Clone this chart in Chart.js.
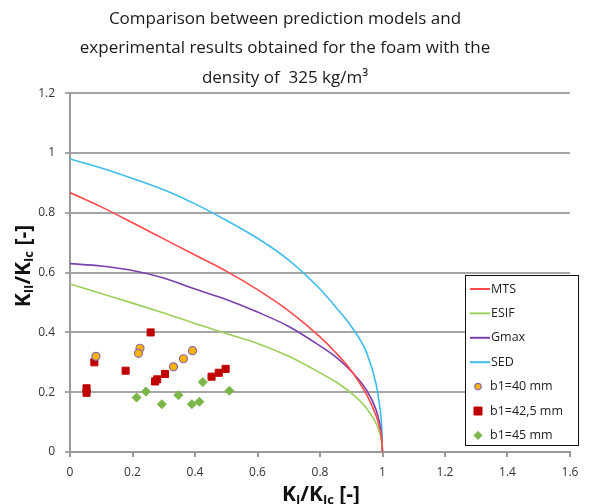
<!DOCTYPE html>
<html lang="en">
<head>
<meta charset="UTF-8">
<title>Foam 325 kg/m3</title>
<style>
  html, body { margin: 0; padding: 0; background: #fff; }
  #box { width: 589px; height: 504px; }
</style>
</head>
<body>
<div id="box"><canvas id="myChart"></canvas></div>

<script src="https://cdn.jsdelivr.net/npm/chart.js"></script>
<script>
// model curves, K_I/K_Ic on x
const curveX = [0, 0.1, 0.2, 0.3, 0.4, 0.5, 0.6, 0.7, 0.8, 0.85, 0.9, 0.95, 0.98, 0.99, 0.997, 1];
const mts  = [0.868, 0.82, 0.767, 0.713, 0.659, 0.605, 0.543, 0.472, 0.385, 0.333, 0.272, 0.19, 0.12, 0.085, 0.045, 0];
const esif = [0.562, 0.53, 0.498, 0.465, 0.43, 0.396, 0.363, 0.32, 0.265, 0.235, 0.197, 0.145, 0.095, 0.068, 0.035, 0];
const gmax = [0.63, 0.622, 0.607, 0.582, 0.545, 0.51, 0.468, 0.42, 0.355, 0.318, 0.27, 0.205, 0.14, 0.1, 0.055, 0];
const sed  = [0.98, 0.95, 0.915, 0.877, 0.83, 0.775, 0.715, 0.642, 0.545, 0.485, 0.42, 0.33, 0.225, 0.16, 0.09, 0];

// experimental results
const b40x = [0.083, 0.224, 0.219, 0.331, 0.363, 0.392];
const b40y = [0.32, 0.347, 0.33, 0.285, 0.312, 0.339];
const b425x = [0.053, 0.053, 0.078, 0.258, 0.178, 0.272, 0.279, 0.304, 0.453, 0.476, 0.498];
const b425y = [0.213, 0.198, 0.30, 0.40, 0.272, 0.236, 0.243, 0.261, 0.252, 0.265, 0.278];
const b45x = [0.213, 0.243, 0.294, 0.347, 0.39, 0.414, 0.425, 0.51];
const b45y = [0.182, 0.202, 0.16, 0.19, 0.16, 0.168, 0.234, 0.205];

const xTicks = ["0", "0.2", "0.4", "0.6", "0.8", "1", "1.2", "1.4", "1.6"];
const yTicks = ["0", "0.2", "0.4", "0.6", "0.8", "1", "1.2"];

const titleLines = [
  "Comparison between prediction models and",
  "experimental results obtained for the foam with the",
  "density of  325 kg/m\u00b3"
];

function f_pts(xs, ys) {
  let v_arr = [];
  for (let i = 0; i < xs.length; i++) {
    v_arr.push({ x: xs[i], y: ys[i] });
  }
  return v_arr;
}

function f_curve(label, ys, color) {
  return {
    label: label,
    data: f_pts(curveX, ys),
    showLine: true,
    borderColor: color,
    backgroundColor: color,
    borderWidth: 1.6,
    pointRadius: 0,
    cubicInterpolationMode: 'monotone'
  };
}

const v_datasets = [
  f_curve("MTS", mts, "#ff4a4a"),
  f_curve("ESIF", esif, "#9ccf5a"),
  f_curve("Gmax", gmax, "#7a3fae"),
  f_curve("SED", sed, "#3ebdec"),
  {
    label: "b1=40 mm",
    data: f_pts(b40x, b40y),
    pointStyle: 'circle',
    pointRadius: 4,
    backgroundColor: "#f8b400",
    borderColor: "#8a6aa8",
    borderWidth: 1.2
  },
  {
    label: "b1=42,5 mm",
    data: f_pts(b425x, b425y),
    pointStyle: 'rect',
    pointRadius: 5,
    backgroundColor: "#c00000",
    borderColor: "#c00000",
    borderWidth: 1
  },
  {
    label: "b1=45 mm",
    data: f_pts(b45x, b45y),
    pointStyle: 'rectRot',
    pointRadius: 4.5,
    backgroundColor: "#7ab648",
    borderColor: "#7ab648",
    borderWidth: 1
  }
];

// text with subscripts: [[text, sub], ...]
function f_subText(ctx, parts, x, y, size) {
  let v_w = 0;
  for (let p of parts) {
    ctx.font = "bold " + (p[1] ? size * 0.62 : size) + "px 'Open Sans'";
    v_w += ctx.measureText(p[0]).width;
  }
  let v_x = x - v_w / 2;
  for (let p of parts) {
    ctx.font = "bold " + (p[1] ? size * 0.62 : size) + "px 'Open Sans'";
    ctx.fillText(p[0], v_x, p[1] ? y + size * 0.25 : y);
    v_x += ctx.measureText(p[0]).width;
  }
}

const axisTitles = {
  id: 'axisTitles',
  afterDraw(chart) {
    const ctx = chart.ctx;
    ctx.save();
    ctx.fillStyle = "#111";
    ctx.textAlign = "left";
    ctx.textBaseline = "middle";
    f_subText(ctx, [["K", 0], ["I", 1], ["/K", 0], ["Ic", 1], [" [-]", 0]], 321, 495, 21);
    ctx.translate(24, 266);
    ctx.rotate(-Math.PI / 2);
    f_subText(ctx, [["K", 0], ["II", 1], ["/K", 0], ["Ic", 1], [" [-]", 0]], 0, 0, 21);
    ctx.restore();
  }
};

const boxLegend = {
  id: 'boxLegend',
  afterDraw(chart) {
    const ctx = chart.ctx;
    const x0 = 465, y0 = 275, w = 113, h = 170;
    ctx.save();
    ctx.fillStyle = "#fff";
    ctx.fillRect(x0, y0, w, h);
    ctx.strokeStyle = "#111";
    ctx.lineWidth = 1;
    ctx.strokeRect(x0 + 0.5, y0 + 0.5, w, h);
    ctx.font = "12.5px 'Open Sans'";
    ctx.textBaseline = "middle";
    ctx.textAlign = "left";
    for (let i = 0; i < v_datasets.length; i++) {
      const ds = v_datasets[i];
      const cy = y0 + 14 + i * 24.4;
      if (ds.showLine) {
        ctx.strokeStyle = ds.borderColor;
        ctx.lineWidth = 2;
        ctx.beginPath();
        ctx.moveTo(470, cy);
        ctx.lineTo(490, cy);
        ctx.stroke();
        ctx.fillStyle = "#222";
        ctx.fillText(ds.label, 491, cy);
      } else {
        ctx.fillStyle = ds.backgroundColor;
        ctx.strokeStyle = ds.borderColor;
        ctx.lineWidth = ds.borderWidth;
        ctx.beginPath();
        if (ds.pointStyle === 'circle') {
          ctx.arc(478, cy, 3.2, 0, Math.PI * 2);
        } else if (ds.pointStyle === 'rect') {
          ctx.rect(474, cy - 4, 8, 8);
        } else {
          ctx.moveTo(478, cy - 4); ctx.lineTo(482, cy); ctx.lineTo(478, cy + 4); ctx.lineTo(474, cy);
          ctx.closePath();
        }
        ctx.fill();
        ctx.stroke();
        ctx.fillStyle = "#222";
        ctx.fillText(ds.label, 490, cy);
      }
    }
    ctx.restore();
  }
};

const ctx = document.querySelector("#myChart");

new Chart(ctx, {
  type: 'scatter',
  data: { datasets: v_datasets },
  plugins: [axisTitles, boxLegend],
  options: {
    responsive: true,
    maintainAspectRatio: false,
    animation: false,
    layout: { padding: { left: 0, right: 19, top: 0, bottom: 0 } },
    plugins: {
      legend: { display: false },
      tooltip: { enabled: false },
      title: {
        display: true,
        text: titleLines,
        color: "#1a1a1a",
        font: { family: "'Open Sans'", size: 17, weight: 'normal', lineHeight: 1.75 },
        padding: { top: 4, bottom: 0 }
      }
    },
    scales: {
      x: {
        type: 'linear',
        min: 0,
        max: 1.6,
        afterFit(scale) { scale.height = 52; },
        ticks: {
          stepSize: 0.2,
          color: "#333",
          font: { family: "'Open Sans'", size: 12 },
          padding: 8,
          maxRotation: 0,
          callback: (v) => xTicks[Math.round(v / 0.2)]
        },
        grid: { drawOnChartArea: false, drawTicks: true, tickLength: 5, color: "#9a9a9a", lineWidth: 2 },
        border: { display: true, color: "#9a9a9a", width: 2 }
      },
      y: {
        type: 'linear',
        min: 0,
        max: 1.2,
        afterFit(scale) { scale.width = 70; },
        ticks: {
          stepSize: 0.2,
          color: "#333",
          font: { family: "'Open Sans'", size: 12 },
          padding: 10,
          callback: (v) => yTicks[Math.round(v / 0.2)]
        },
        grid: { color: "#a6a6a6", lineWidth: 2, drawTicks: true, tickLength: 5 },
        border: { display: true, color: "#9a9a9a", width: 2 }
      }
    }
  }
});
</script>
</body>
</html>
